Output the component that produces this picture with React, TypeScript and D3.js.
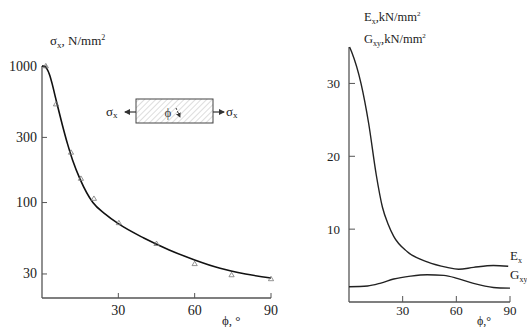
import React from "react";
import * as d3 from "d3";

// Left chart: sigma_x vs phi (log scale)
const sigmaCurveX = [0, 1, 2, 3, 4, 5, 6, 8, 10, 12, 15, 20, 25, 30, 40, 50, 60, 70, 80, 90];
const sigmaCurveY = [1000, 990, 950, 860, 740, 620, 520, 370, 270, 205, 148, 100, 82, 70, 55, 45, 38, 33, 30, 28];
const sigmaPtsX = [1.5, 5.5, 11.4, 15.3, 20.4, 30.2, 45, 60, 74.5, 90];
const sigmaPtsY = [1000, 526, 233, 150, 107, 71, 50, 35.6, 29.5, 27.6];
const leftYTicks = [30, 100, 300, 1000];
const xTicks = [30, 60, 90];

// Right chart: Ex, Gxy vs phi
const exX = [0.3, 1.5, 6.7, 11, 15.2, 18.7, 22, 25, 32.6, 43.7, 54.8, 61.3, 69.6, 80.7, 89];
const exY = [35, 34.3, 30, 24.5, 17.5, 13, 10.6, 9, 6.9, 5.5, 4.75, 4.5, 4.75, 5.0, 4.9];
const gX = [0, 10.4, 17.8, 25, 34.4, 43.7, 53, 60.4, 69.6, 80.7, 90];
const gY = [2.1, 2.2, 2.6, 3.15, 3.55, 3.75, 3.65, 3.25, 2.55, 2.0, 1.9];
const rightYTicks = [10, 20, 30];

const FONT = "'Liberation Serif', 'Times New Roman', Times, 'DejaVu Serif', serif";

export default function App() {
  const lx = d3.scaleLinear().domain([0, 90]).range([42, 271]);
  const ly = d3.scaleLog().domain([20, 1000]).range([298, 66]);
  const rx = d3.scaleLinear().domain([0, 90]).range([349, 510]);
  const ry = d3.scaleLinear().domain([0, 35]).range([302, 47]);

  const leftLine = d3
    .line<number>()
    .x((_, i) => lx(sigmaCurveX[i]))
    .y((d) => ly(d))
    .curve(d3.curveMonotoneX)(sigmaCurveY) as string;

  const exLine = d3
    .line<number>()
    .x((_, i) => rx(exX[i]))
    .y((d) => ry(d))
    .curve(d3.curveMonotoneX)(exY) as string;

  const gLine = d3
    .line<number>()
    .x((_, i) => rx(gX[i]))
    .y((d) => ry(d))
    .curve(d3.curveMonotoneX)(gY) as string;

  const tri = (cx: number, cy: number) =>
    `M${cx},${cy - 2.6}L${cx + 2.6},${cy + 1.8}L${cx - 2.6},${cy + 1.8}Z`;

  const axisColor = "#555";
  const txt = { fontFamily: FONT } as React.CSSProperties;

  return (
    <svg width={527} height={327} style={{ position: "absolute", left: 0, top: 0, background: "#fff", fontFamily: FONT }}>
      <defs>
        <pattern id="hatch" width="4" height="4" patternUnits="userSpaceOnUse" patternTransform="rotate(45)">
          <line x1="0" y1="0" x2="0" y2="4" stroke="#aaa" strokeWidth="0.8" />
        </pattern>
        <marker id="arr" viewBox="0 0 6 6" refX="5" refY="3" markerWidth="5" markerHeight="5" orient="auto">
          <path d="M0,0L6,3L0,6Z" fill="#333" />
        </marker>
      </defs>

      {/* ===== Left chart ===== */}
      <text x={50} y={45} fontSize={13} fill="#222" style={txt}>
        σ<tspan fontSize={9} dy={3}>x</tspan>
        <tspan dy={-3}>, N/mm</tspan>
        <tspan fontSize={8} dy={-5}>2</tspan>
      </text>
      <line x1={lx(0)} x2={lx(0)} y1={ly(1000)} y2={298} stroke={axisColor} strokeWidth={1.3} />
      <line x1={lx(0)} x2={lx(90)} y1={298} y2={298} stroke={axisColor} strokeWidth={1.3} />
      {leftYTicks.map((t) => (
        <g key={"ly" + t}>
          <line x1={lx(0)} x2={lx(0) + 5} y1={ly(t)} y2={ly(t)} stroke={axisColor} strokeWidth={1} />
          <text x={37} y={ly(t) + 4.5} fontSize={14} textAnchor="end" fill="#222" style={txt}>{t}</text>
        </g>
      ))}
      {xTicks.map((t) => (
        <g key={"lx" + t}>
          <line x1={lx(t)} x2={lx(t)} y1={298} y2={293} stroke={axisColor} strokeWidth={1} />
          <text x={lx(t)} y={315} fontSize={14} textAnchor="middle" fill="#222" style={txt}>{t}</text>
        </g>
      ))}
      <text x={222} y={325} fontSize={13} fill="#222" style={txt}>ϕ, °</text>
      <path d={leftLine} fill="none" stroke="#111" strokeWidth={1.6} />
      {sigmaPtsX.map((x, i) => (
        <path key={"pt" + i} d={tri(lx(x), ly(sigmaPtsY[i]))} fill="none" stroke="#777" strokeWidth={0.8} />
      ))}

      {/* Inset diagram */}
      <rect x={136} y={99} width={77} height={24} fill="url(#hatch)" stroke="#444" strokeWidth={1} />
      <line x1={136} y1={112} x2={125} y2={112} stroke="#333" strokeWidth={1.2} markerEnd="url(#arr)" />
      <line x1={213} y1={112} x2={224} y2={112} stroke="#333" strokeWidth={1.2} markerEnd="url(#arr)" />
      <text x={106} y={116} fontSize={13} fill="#222" style={txt}>σ<tspan fontSize={9} dy={2}>x</tspan></text>
      <text x={226} y={116} fontSize={13} fill="#222" style={txt}>σ<tspan fontSize={9} dy={2}>x</tspan></text>
      <text x={168} y={117} fontSize={13} textAnchor="middle" fill="#444" style={txt}>ϕ</text>
      <line x1={176} y1={108} x2={180} y2={117} stroke="#333" strokeWidth={1} strokeDasharray="2,1.5" markerEnd="url(#arr)" />

      {/* ===== Right chart ===== */}
      <text x={364} y={21} fontSize={12.5} fill="#222" style={txt}>
        E<tspan fontSize={8} dy={3}>x</tspan>
        <tspan dy={-3}>,kN/mm</tspan>
        <tspan fontSize={7} dy={-5}>2</tspan>
      </text>
      <text x={364} y={43} fontSize={12.5} fill="#222" style={txt}>
        G<tspan fontSize={8} dy={3}>xy</tspan>
        <tspan dy={-3}>,kN/mm</tspan>
        <tspan fontSize={7} dy={-5}>2</tspan>
      </text>
      <line x1={rx(0)} x2={rx(0)} y1={ry(35)} y2={ry(0)} stroke={axisColor} strokeWidth={1.3} />
      <line x1={rx(0)} x2={rx(90)} y1={ry(0)} y2={ry(0)} stroke={axisColor} strokeWidth={1.3} />
      {rightYTicks.map((t) => (
        <g key={"ry" + t}>
          <line x1={rx(0)} x2={rx(0) + 6} y1={ry(t)} y2={ry(t)} stroke={axisColor} strokeWidth={1} />
          <text x={340} y={ry(t) + 4.5} fontSize={13} textAnchor="end" fill="#222" style={txt}>{t}</text>
        </g>
      ))}
      {xTicks.map((t) => (
        <g key={"rx" + t}>
          <line x1={rx(t)} x2={rx(t)} y1={ry(0)} y2={ry(0) - 6} stroke={axisColor} strokeWidth={1} />
          <text x={rx(t)} y={315} fontSize={13} textAnchor="middle" fill="#222" style={txt}>{t}</text>
        </g>
      ))}
      <text x={477} y={325} fontSize={12} fill="#222" style={txt}>ϕ,°</text>
      <path d={exLine} fill="none" stroke="#222" strokeWidth={1.4} />
      <path d={gLine} fill="none" stroke="#222" strokeWidth={1.4} />
      <text x={510} y={260} fontSize={13} fill="#222" style={txt}>E<tspan fontSize={8} dy={3}>x</tspan></text>
      <text x={510} y={279} fontSize={13} fill="#222" style={txt}>G<tspan fontSize={8} dy={3}>xy</tspan></text>
    </svg>
  );
}
